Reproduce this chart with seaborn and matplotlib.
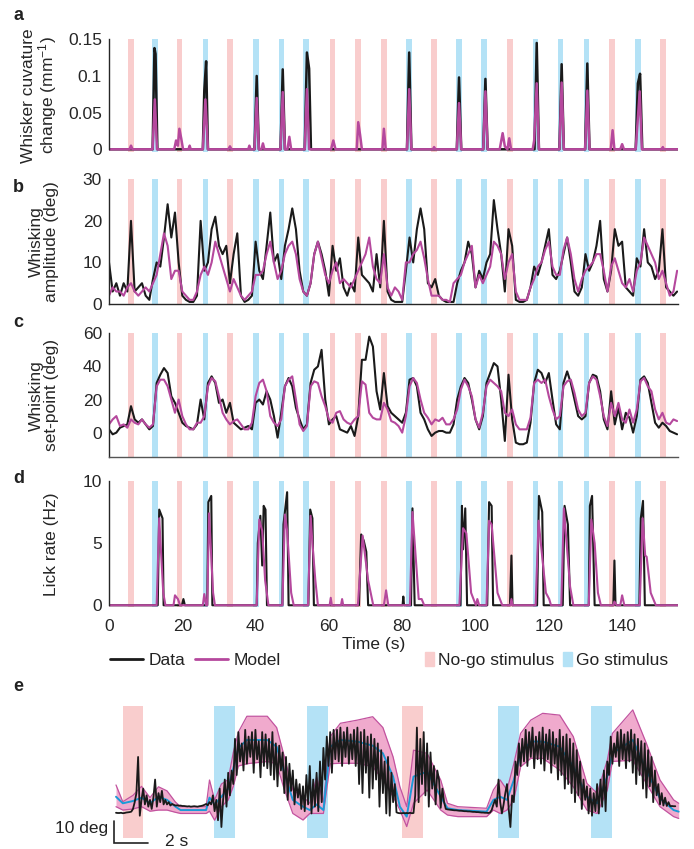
"""
plot.py

Behaviour vs. model traces: whisker curvature, whisking amplitude,
set-point and lick rate over one session, plus a zoomed set-point panel.
"""

import numpy as np
import matplotlib.pyplot as plt
import matplotlib.lines as mlines
import matplotlib.patches as mpatches
import seaborn as sns

# stimulus onsets (s) over the session
nogo_times = [6.0, 19.2, 33.0, 61.0, 68.0, 75.0, 88.7, 109.4, 137.2, 151.1]
go_times = [12.55, 26.3, 40.1, 47.1, 53.75, 81.9, 95.5, 102.3, 116.3, 123.2, 130.3, 144.3]

# a: whisker curvature change (mm^-1), sparse knots
curv_data_t = [0, 11.9, 12.4, 12.7, 13.2, 25.6, 26.0, 26.5, 27.0, 39.7, 40.3, 40.9,
               46.8, 47.4, 48.0, 53.4, 54.0, 54.6, 55.1, 81.3, 81.9, 82.5, 94.9, 95.5,
               96.1, 102.1, 102.7, 103.3, 116.1, 116.7, 117.3, 122.9, 123.5, 124.1,
               129.9, 130.5, 131.1, 143.7, 144.3, 144.9, 145.5, 155.3]
curv_data = [0, 0, 0.138, 0.13, 0, 0, 0.08, 0.12, 0, 0, 0.10, 0,
             0, 0.109, 0, 0, 0.132, 0.11, 0, 0, 0.132, 0, 0, 0.098,
             0, 0, 0.096, 0, 0, 0.145, 0, 0, 0.116, 0,
             0, 0.117, 0, 0, 0.09, 0.103, 0, 0]
curv_model_t = [0, 5.6, 6.0, 6.4, 11.9, 12.5, 13.1, 17.8, 18.3, 18.8, 19.2, 19.7, 20.2,
                21.7, 22.0, 22.3, 25.6, 26.3, 27.0, 32.6, 33.0, 33.4, 38.0, 38.3, 38.6,
                39.7, 40.3, 40.9, 41.6, 42.0, 42.4, 46.8, 47.4, 48.0, 48.7, 49.2, 49.7,
                53.4, 54.0, 54.6, 60.6, 61.2, 61.8, 67.6, 68.0, 68.5, 69.0, 74.6, 75.0,
                75.5, 81.3, 81.9, 82.5, 88.4, 88.7, 89.0, 94.9, 95.5, 96.1, 102.1, 102.7,
                103.3, 106.6, 107.4, 108.0, 108.7, 109.2, 109.7, 115.6, 116.0, 116.7,
                117.3, 122.9, 123.5, 124.1, 129.9, 130.5, 131.1, 136.9, 137.4, 137.9,
                139.5, 140.0, 140.5, 143.7, 144.8, 145.4, 150.8, 151.1, 151.4, 155.3]
curv_model = [0, 0, 0.005, 0, 0, 0.068, 0, 0, 0.012, 0.005, 0.028, 0.015, 0,
              0, 0.005, 0, 0, 0.068, 0, 0, 0.004, 0, 0, 0.005, 0,
              0, 0.07, 0, 0, 0.008, 0, 0, 0.078, 0, 0, 0.017, 0,
              0, 0.082, 0, 0, 0.012, 0, 0, 0.037, 0.02, 0, 0, 0.028,
              0, 0, 0.082, 0, 0, 0.003, 0, 0, 0.063, 0, 0, 0.079,
              0, 0, 0.022, 0.004, 0, 0.015, 0, 0, 0.012, 0.09,
              0, 0, 0.091, 0, 0, 0.08, 0, 0, 0.026, 0,
              0, 0.007, 0, 0, 0.079, 0, 0, 0.003, 0, 0]

# b: whisking amplitude (deg), one value per second, 0..155 s
amp_data = [10, 3, 5, 2, 5, 3, 20, 3, 4, 5, 2, 1, 6, 10, 9, 16, 24, 16, 22, 10,
            2, 1, 0.5, 0.5, 2, 20, 8, 10, 18, 21, 14, 12, 14, 5, 12, 17, 2, 0.5, 1, 2,
            15, 8, 6, 14, 22, 10, 12, 6, 14, 18, 23, 18, 8, 3, 2, 5, 12, 15, 12, 8,
            2, 14, 8, 11, 4, 2, 5, 3, 16, 7, 6, 5, 3, 12, 4, 20, 3, 1, 0.5, 0.5,
            0.5, 8, 16, 10, 18, 23, 18, 5, 4, 6, 2, 1, 0.5, 0.5, 0.5, 5, 8, 10, 15, 12,
            4, 8, 6, 10, 12, 25, 18, 12, 3, 18, 14, 1, 0.5, 0.5, 1, 4, 9, 7, 10, 14,
            18, 7, 6, 8, 12, 16, 10, 3, 2, 4, 12, 8, 10, 14, 20, 6, 3, 8, 18, 14,
            15, 4, 3, 2, 11, 9, 18, 10, 9, 6, 8, 18, 4, 3, 2, 3]
amp_model = [2, 4, 3, 3, 2, 4, 5, 3, 2, 3, 4, 3, 5, 7, 12, 17, 14, 6, 8, 8,
             3, 2, 1, 1, 3, 7, 9, 7, 10, 15, 12, 9, 6, 3, 6, 4, 2, 1, 2, 3,
             7, 7, 8, 12, 15, 10, 6, 8, 12, 14, 15, 12, 6, 3, 2, 5, 12, 15, 11, 7,
             5, 8, 10, 5, 6, 5, 4, 6, 8, 10, 12, 16, 9, 6, 5, 12, 4, 2, 4, 3,
             1, 10, 10, 12, 13, 15, 11, 6, 2, 2, 2, 1, 1, 0.5, 5, 6, 7, 10, 12, 14,
             4, 7, 5, 7, 9, 15, 14, 12, 6, 10, 12, 3, 1, 1, 1, 4, 6, 9, 10, 13,
             15, 9, 7, 7, 13, 16, 12, 6, 3, 6, 8, 9, 10, 12, 12, 8, 3, 9, 11, 8,
             5, 4, 6, 3, 8, 10, 16, 14, 12, 10, 6, 8, 5, 2, 3, 8]

# c: whisking set-point (deg), one value per second, 0..155 s
sp_data = [2, -1, 0, 3, 4, 5, 16, 8, 6, 8, 5, 2, 4, 30, 35, 39, 36, 22, 18, 12,
           6, 4, 3, 2, 5, 20, 8, 30, 34, 30, 18, 20, 12, 18, 6, 4, 2, 3, 4, 2,
           18, 20, 17, 25, 20, 10, -3, 12, 28, 33, 28, 15, 8, 2, 5, 30, 38, 40, 50, 20,
           5, 8, 10, 2, 1, 0, 4, -2, 10, 44, 44, 58, 52, 25, 14, 36, 16, 12, 10, 8,
           6, 12, 32, 33, 28, 12, 8, 2, -2, 0, 1, 1, 0, 0, 5, 20, 28, 33, 30, 20,
           8, 2, 10, 30, 36, 42, 40, 20, -5, 35, 8, -6, -7, -7, -6, 6, 30, 38, 36, 30,
           36, 20, 5, 2, 30, 37, 30, 20, 10, 8, 10, 30, 35, 34, 25, 8, 2, 25, 5, 15,
           2, 12, 9, 0, 10, 32, 34, 30, 18, 6, 3, 6, 4, 1, 0, -1]
sp_model = [5, 8, 10, 4, 5, 3, 8, 6, 5, 8, 5, 3, 5, 28, 32, 32, 28, 20, 12, 20,
            10, 5, 2, 2, 6, 6, 10, 28, 33, 31, 22, 12, 8, 5, 7, 8, 5, 2, 2, 6,
            22, 30, 32, 25, 10, 6, 4, 8, 28, 32, 34, 20, 5, 1, 4, 28, 31, 30, 22, 16,
            8, 6, 12, 13, 8, 6, 5, 8, 10, 31, 29, 12, 9, 8, 8, 18, 14, 7, 6, 4,
            0, 10, 28, 33, 30, 20, 12, 9, 5, 8, 7, 9, 5, 5, 8, 14, 26, 32, 28, 22,
            8, 3, 12, 28, 32, 30, 28, 25, 12, 10, 14, 5, 2, 2, 2, 9, 30, 32, 30, 32,
            22, 14, 8, 10, 28, 31, 32, 24, 14, 10, 12, 30, 34, 32, 22, 10, 4, 18, 10, 18,
            8, 6, 14, 6, 14, 31, 33, 28, 25, 14, 8, 12, 6, 5, 8, 7]

# d: lick rate (Hz), sparse knots
lick_data_t = [0, 13.3, 13.7, 14.6, 14.9, 19.9, 20.3, 20.7, 26.8, 27.1, 27.9, 28.2,
               40.3, 40.6, 41.3, 41.8, 42.2, 42.7, 43.1, 47.3, 47.6, 48.6, 49.0,
               54.4, 54.9, 55.5, 55.9, 68.2, 68.8, 69.5, 70.2, 70.7, 80.1, 80.3, 80.5,
               82.4, 82.8, 83.4, 95.9, 96.3, 96.6, 97.2, 97.7, 103.2, 103.7, 104.4, 104.8,
               109.4, 109.8, 110.1, 116.8, 117.3, 118.2, 118.6, 123.8, 124.3, 125.2,
               125.8, 130.9, 131.2, 131.8, 132.5, 137.6, 137.9, 138.2, 144.7, 145.1,
               145.7, 146.2, 155.3]
lick_data = [0, 0, 7.7, 7.0, 0, 0, 0.5, 0, 0, 8.3, 8.8, 0,
             0, 5.0, 7.2, 3.2, 8.0, 7.7, 0, 0, 6.5, 9.1, 0,
             0, 7.7, 7.0, 0, 0, 5.7, 5.2, 4.3, 0, 0, 0.7, 0,
             0, 7.8, 0, 0, 8.0, 4.5, 7.8, 0, 0, 8.3, 8.0, 0,
             0, 4.0, 0, 0, 8.8, 7.5, 0, 0, 8.0, 6.5,
             0, 0, 8.0, 8.8, 0, 0, 3.6, 0, 0, 7.0,
             8.4, 0, 0]
lick_model_t = [0, 13.0, 13.7, 14.8, 15.4,
                17.6, 18.0, 18.8, 19.4,
                25.6, 26.0, 26.5,
                26.8, 27.3, 28.4, 28.9,
                40.3, 41.0, 41.8, 42.6, 43.5,
                47.3, 48.0, 48.6, 49.7, 50.4,
                54.3, 55.0, 55.5, 56.3, 57.0,
                60.2, 60.5, 60.8,
                63.3, 63.6, 63.9,
                67.9, 69.2, 70.7, 72.1,
                75.0, 75.6, 76.2,
                82.1, 82.8, 84.5, 85.3, 86.0,
                95.6, 96.6, 97.5, 98.8, 100.1, 100.5, 101.0,
                103.0, 103.7, 104.4, 106.0, 107.3,
                109.5, 109.8, 110.1,
                116.4, 117.2, 119.2, 120.1, 120.6,
                123.4, 124.1, 125.8, 126.7,
                130.9, 131.6, 132.5, 133.4, 134.2,
                137.6, 137.9, 138.5,
                139.5, 140.0, 140.6,
                144.8, 145.6, 146.3, 146.7, 147.8, 149.2, 155.3]
lick_model = [0, 0, 7.0, 1.0, 0,
              0, 0.8, 0.5, 0,
              0, 0.9, 0,
              0, 7.4, 1.0, 0,
              0, 6.9, 6.0, 2.0, 0,
              0, 7.3, 6.0, 1.0, 0,
              0, 7.2, 5.0, 2.0, 0,
              0, 0.6, 0,
              0, 0.5, 0,
              0, 5.6, 2.0, 0,
              0, 1.2, 0,
              0, 7.5, 0.5, 0.5, 0,
              0, 6.2, 5.8, 1.0, 0, 0.5, 0,
              0, 6.8, 6.5, 1.0, 0,
              0, 0.5, 0,
              0, 6.8, 1.0, 0.5, 0,
              0, 7.8, 1.5, 0,
              0, 6.9, 5.0, 1.0, 0,
              0, 0.3, 0,
              0, 0.8, 0,
              0, 7.0, 4.0, 3.9, 1.0, 0, 0]

# e: zoomed set-point traces (deg), 33 s window
e_nogo = [0.4, 16.85]
e_go = [5.75, 11.25, 22.45, 27.95]
e_model_t = [0.0, 0.4, 1.0, 1.5, 2.0, 2.5, 3.0, 3.5, 3.8, 5.3, 5.5, 5.8, 6.2, 6.6,
             6.9, 7.2, 7.7, 8.9, 9.45, 9.85, 10.4, 11.0, 11.4, 11.8, 12.2, 12.6,
             13.2, 14.2, 15.1, 15.7, 16.3, 16.7, 17.1, 17.5, 18.3, 19.1, 19.5, 20.1,
             21.8, 22.2, 22.6, 23.0, 23.4, 23.8, 24.4, 25.1, 26.1, 26.9, 27.7, 28.3,
             28.9, 29.2, 30.4, 31.2, 32.0, 32.8, 33.1]
e_model_hi = [9.6, 2.2, 5, 9, 4, 8.8, 7, 2, 0, 0, 11.8, 3, 10, 12,
              24, 33, 40, 40, 35, 23.6, 7.4, 4.4, 1.5, 13, 2, 31,
              36.9, 38.3, 39.8, 35, 22, 8.8, 0, 25, 23.6, 11.8, 1.5, 0,
              -0.7, 7.4, 11.8, 7.4, 19, 32.4, 38.3, 41.3, 40.5, 31, 10.3, 5.9,
              20.6, 32.4, 42.8, 28, 11.8, 3, 1.5]
e_model_mean = [4.4, 1.5, 2.5, 4, 1.5, 4.4, 3, 0, -1.5, -1.5, 4, 1, 4.4, 8,
                17, 26, 29.5, 29.5, 26.5, 16.2, 3, 0, -1.5, 1, -1.5, 26.5,
                29.5, 28.8, 27, 23.6, 13.3, 0, -4.4, 13.3, 15.5, 4.4, -0.7, -1.5,
                -2.2, 3, 4.4, 3, 11.8, 23.6, 28.8, 28.8, 26.5, 17.7, 4.4, 1.5,
                13.3, 23.6, 29.5, 16.2, 3.7, -1.5, -2.2]
e_model_lo = [0, -1.5, -1, 0, -2, -1.5, -1.5, -2.5, -3, -3, -2, -6, 0, 3,
              9, 18, 19, 20, 19, 8.8, -3, -5.9, -3, -3, -3, 19,
              19.2, 19.2, 17.7, 11.8, 4.4, -1.5, -8.8, 1.5, 7.4, -1.5, -3.7, -4.4,
              -4.4, -1.5, -3, -1.5, 3, 17.7, 21.4, 21.4, 16.2, 8.8, -1.5, -3,
              7.4, 20, 20.6, 10.3, 0, -4.4, -5.2]
# black data trace, 10 samples per second
e_data = [-2.7, -2.8, -2.8, -2.7, -2.9, -2.8, -2.6, -2.5, -2.4, -2.2,
          -1, 2, 6, 22, -4, 3, 8, 1, 5, 0,
          3, -1, 4, 12, 0, 6, 2, 7, 1, 3,
          1, 2, 0.5, 1.2, 0.8, 0.5, 0.6, 0.4, 0.5, 0.3,
          0.3, 0.2, 0.1, 0.2, 0, 0.1, 0.2, 0.1, 0.0, 0.2,
          0.3, 0.5, 0.8, 1.2, 0.6, 2.0, 1.0, 5.0, -2, 3,
          -6, 8, -9, 3, 12, 0, 15, 5, 16, 10,
          30, 14, 33, 20, 28, 16, 34, 19, 31, 22,
          33, 15, 34, 21, 29, 13, 33, 18, 32, 17,
          30, 14, 33, 12, 28, 9, 27, 16, 24, 6,
          22, 3, 19, 7, 16, 1, 12, 4, 10, -1,
          9, -2, 14, 1, 18, -3, 12, 0, 15, -2,
          20, 2, 26, 12, 31, 18, 33, 15, 34, 21,
          34, 20, 35, 18, 33, 22, 35, 19, 32, 21,
          34, 18, 35, 10, 33, 6, 34, 15, 31, 4,
          32, 8, 30, 12, 28, 0, 25, 6, 20, -3,
          22, -4, 15, 2, 10, -2.5, -2.8, -2.9, -2.9, -2.8,
          -2.9, -2.8, -2.9, -2.7, -2.9, -2.8, 5, 35, 2, 30,
          10, 33, 5, 28, 0, 24, 8, 18, 1, 16,
          12, -0.5, 8, 2, -1, -1.2, -1.3, -1.4, -1.5, -1.6,
          -1.6, -1.7, -1.8, -1.8, -1.9, -2.0, -2.0, -2.1, -2.1, -2.2,
          -2.3, -2.3, -2.4, -2.4, -2.5, -2.6, -2.6, -2.7, -2.7, -2.8,
          -2.6, -1.5, 1, 3, 0, 12, 2, -3, 1, 6,
          10, -1, -9, 5, 2, 20, 14, 28, 18, 30,
          20, 34, 18, 33, 22, 35, 17, 31, 21, 33,
          19, 35, 16, 32, 21, 34, 15, 33, 19, 30,
          12, 34, 14, 31, 8, 32, 10, 30, 6, 28,
          2, 25, 5, 20, -1, 12, 3, 9, -3, 8,
          -4, 6, -2, 10, -3, 12, 0, 16, -2, 20,
          14, 31, 19, 28, 22, 33, 18, 34, 21, 32,
          17, 33, 20, 34, 15, 32, 10, 30, 14, 29,
          8, 28, 4, 25, 9, 22, 2, 16, 5, 10,
          1, 6, 0.5, 4, 0.3, 2, 0.2, 0.3, 0.2, 0.2]

# colours
NOGO = '#F9CDCD'
GO = '#B4E2F6'
DATA = '#1a1a1a'
MODEL = '#B5489D'
E_FILL = '#F0AACD'
E_EDGE = '#C2539F'
E_MEAN = '#1B9AD7'

W, H = 694, 849


def px_axes(fig, left, right, top, bottom):
    """Axes placed by pixel edges (top-left origin)."""
    return fig.add_axes([left / W, 1 - bottom / H, (right - left) / W, (bottom - top) / H])


def draw_stimuli(ax, lo, hi, width=1.5):
    for t in nogo_times:
        ax.bar(t, hi - lo, bottom=lo, width=width, color=NOGO, lw=0, zorder=0)
    for t in go_times:
        ax.bar(t, hi - lo, bottom=lo, width=width, color=GO, lw=0, zorder=0)


def style_trace_axes(ax, ylim, ticks, ticklabels, ylabel):
    ax.set_xlim(0, 155.3)
    ax.set_ylim(*ylim)
    ax.set_yticks(ticks)
    ax.set_yticklabels(ticklabels)
    ax.set_ylabel(ylabel, linespacing=1.0)
    ax.yaxis.set_label_coords(-0.088, 0.5)
    ax.tick_params(axis='y', direction='in', length=5, width=1, pad=5, labelsize=12.5)
    ax.spines['top'].set_visible(False)
    ax.spines['right'].set_visible(False)
    ax.set_xlabel('')


sns.set_theme(style='white')
plt.rcParams['font.family'] = ['Liberation Sans', 'DejaVu Sans']
plt.rcParams['mathtext.default'] = 'regular'
plt.rcParams['axes.linewidth'] = 1.0
plt.rcParams['axes.labelsize'] = 12.5
plt.rcParams['text.color'] = '#222222'

fig = plt.figure(figsize=(W / 100, H / 100), dpi=100)
secs = np.arange(len(amp_data))

# a
ax_a = px_axes(fig, 109, 678.2, 39.3, 151.5)
ax_a.set_ylim(-0.003, 0.15)
draw_stimuli(ax_a, -0.003, 0.15)
sns.lineplot(x=curv_data_t, y=curv_data, ax=ax_a, color=DATA, lw=1.8)
sns.lineplot(x=curv_model_t, y=curv_model, ax=ax_a, color=MODEL, lw=1.8)
style_trace_axes(ax_a, (-0.003, 0.15), [0, 0.05, 0.1, 0.15], ['0', '0.05', '0.1', '0.15'],
                 'Whisker cuvature\nchange (mm$^{-1}$)')
ax_a.spines['left'].set_bounds(0, 0.15)
ax_a.spines['bottom'].set_visible(False)
ax_a.set_xticks([])

# b
ax_b = px_axes(fig, 109, 678.2, 179.3, 304)
draw_stimuli(ax_b, 0, 30)
sns.lineplot(x=secs, y=amp_data, ax=ax_b, color=DATA, lw=1.5)
sns.lineplot(x=secs, y=amp_model, ax=ax_b, color=MODEL, lw=1.5)
style_trace_axes(ax_b, (0, 30), [0, 10, 20, 30], ['0', '10', '20', '30'],
                 'Whisking\namplitude (deg)')
ax_b.set_xticks([])

# c
ax_c = px_axes(fig, 109, 678.2, 333.3, 457)
draw_stimuli(ax_c, -14.7, 60)
sns.lineplot(x=secs, y=sp_data, ax=ax_c, color=DATA, lw=1.5)
sns.lineplot(x=secs, y=sp_model, ax=ax_c, color=MODEL, lw=1.5)
style_trace_axes(ax_c, (-14.7, 60), [0, 20, 40, 60], ['0', '20', '40', '60'],
                 'Whisking\nset-point (deg)')
ax_c.set_xticks(np.arange(0, 141, 20))
ax_c.tick_params(axis='x', direction='in', length=6, width=1, labelbottom=False)
ax_c.spines['bottom'].set_color('#555555')

# d
ax_d = px_axes(fig, 109, 678.2, 481, 606.5)
draw_stimuli(ax_d, -0.1, 10)
sns.lineplot(x=lick_data_t, y=lick_data, ax=ax_d, color=DATA, lw=1.5)
sns.lineplot(x=lick_model_t, y=lick_model, ax=ax_d, color=MODEL, lw=1.5)
style_trace_axes(ax_d, (-0.1, 10), [0, 5, 10], ['0', '5', '10'], 'Lick rate (Hz)')
ax_d.spines['left'].set_bounds(0, 10)
ax_d.spines['bottom'].set_visible(False)
ax_d.set_xticks(np.arange(0, 141, 20))
ax_d.tick_params(axis='x', length=0, pad=9, labelsize=12.5)
fig.text(374 / W, 1 - 645 / H, 'Time (s)', ha='center', va='center', fontsize=12.5)

# legends
line_handles = [mlines.Line2D([], [], color=DATA, lw=2, label='Data'),
                mlines.Line2D([], [], color=MODEL, lw=2, label='Model')]
fig.legend(handles=line_handles, loc='center left',
           bbox_to_anchor=(110 / W, 1 - 660 / H), ncol=2, frameon=False,
           fontsize=12.5, handlelength=1.9, handletextpad=0.3,
           columnspacing=0.6, borderpad=0, borderaxespad=0)
patch_handles = [mpatches.Patch(color=NOGO, label='No-go stimulus'),
                 mpatches.Patch(color=GO, label='Go stimulus')]
fig.legend(handles=patch_handles, loc='center left',
           bbox_to_anchor=(425 / W, 1 - 660 / H), ncol=2, frameon=False,
           fontsize=12.5, handlelength=0.5, handleheight=0.9, handletextpad=0.25,
           columnspacing=0.5, borderpad=0, borderaxespad=0)

# e
ax_e = px_axes(fig, 109.2, 680.4, 702.7, 845.1)
ax_e.set_xlim(-0.4, 33.2)
ax_e.set_ylim(-17, 46)
for t in e_nogo:
    ax_e.bar(t, 58.3, bottom=-13.7, width=1.2, align='edge', color=NOGO, lw=0, zorder=0)
for t in e_go:
    ax_e.bar(t, 58.3, bottom=-13.7, width=1.25, align='edge', color=GO, lw=0, zorder=0)
ax_e.fill_between(e_model_t, e_model_lo, e_model_hi, color=E_FILL, lw=0, zorder=1)
ax_e.plot(e_model_t, e_model_hi, color=E_EDGE, lw=0.9, zorder=2)
ax_e.plot(e_model_t, e_model_lo, color=E_EDGE, lw=0.9, zorder=2)
ax_e.plot(e_model_t, e_model_mean, color=E_MEAN, lw=1.4, zorder=3)
e_secs = np.arange(len(e_data)) / 10.0
sns.lineplot(x=e_secs, y=e_data, ax=ax_e, color=DATA, lw=1.3, zorder=4)
ax_e.set_axis_off()

# scale bars: 10 deg, 2 s
ax_e.plot([-0.12, -0.12, 1.88], [-6.2, -16.2, -16.2], color='#222222', lw=1.2,
          clip_on=False, solid_joinstyle='miter')
fig.text(108 / W, 1 - 829 / H, '10 deg', ha='right', va='center', fontsize=12.5)
fig.text(177 / W, 1 - 842 / H, '2 s', ha='center', va='center', fontsize=12.5)

# panel letters
for letter, base in zip('abcde', [20, 191.7, 326.7, 483, 690.7]):
    fig.text(13 / W, 1 - base / H, letter, fontsize=13, fontweight='bold',
             va='baseline', ha='left')

fig.savefig('out.png', dpi=100)
